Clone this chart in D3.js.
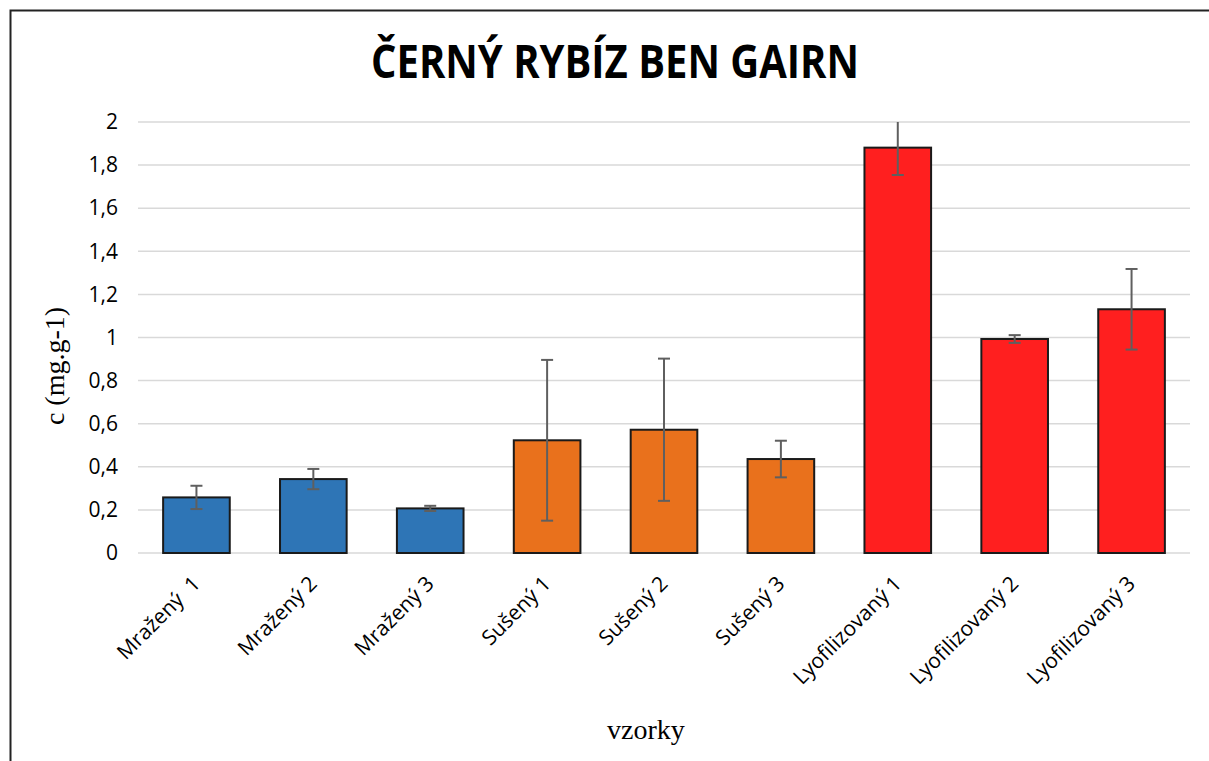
<!DOCTYPE html>
<html>
    <head>
        <meta charset="utf-8">
        <title>Černý rybíz Ben Gairn</title>
        <script src="https://d3js.org/d3.v7.min.js"></script>
        <style>
            body {
                margin: 0;
                padding: 0;
                background: #fff;
            }
        </style>
    </head>

    <body>
        <svg id="chart" width="1209" height="761"></svg>
    </body>

    <script>
        // ---- DATA ----
        const samples = ["Mražený  1", "Mražený 2", "Mražený 3",
                         "Sušený 1", "Sušený 2", "Sušený 3",
                         "Lyofilizovaný 1", "Lyofilizovaný 2", "Lyofilizovaný 3"];
        const groups = ["mraz", "mraz", "mraz", "sus", "sus", "sus", "lyo", "lyo", "lyo"];
        const means = [0.258, 0.343, 0.207, 0.523, 0.572, 0.436, 1.881, 0.993, 1.131];
        const errors = [0.054, 0.047, 0.012, 0.373, 0.330, 0.085, 0.127, 0.018, 0.187];
        const yTicks = [0, 0.2, 0.4, 0.6, 0.8, 1, 1.2, 1.4, 1.6, 1.8, 2];

        const colors = { mraz: "#2E75B6", sus: "#E9711C", lyo: "#FF1F1F" };

        const svg = d3.select("#chart");

        // frame (only top and left edges visible in the picture)
        svg.append("rect")
            .attr("x", 10.5).attr("y", 10.5)
            .attr("width", 1240).attr("height", 800)
            .attr("fill", "none")
            .attr("stroke", "#222")
            .attr("stroke-width", 2);

        const margin = { top: 122, bottom: 208, left: 138, right: 19 };
        const W = 1209, H = 761;

        const x = d3.scaleBand()
            .domain(samples)
            .range([margin.left, W - margin.right])
            .paddingInner(0.43)
            .paddingOuter(0.215);

        const y = d3.scaleLinear()
            .domain([0, 2])
            .range([H - margin.bottom, margin.top]);

        // gridlines
        svg.append("g")
            .selectAll("line")
            .data(yTicks)
            .join("line")
            .attr("x1", margin.left)
            .attr("x2", W - margin.right)
            .attr("y1", d => y(d))
            .attr("y2", d => y(d))
            .attr("stroke", "#D9D9D9")
            .attr("stroke-width", 1.5);

        // y axis labels
        const yAxis = d3.axisLeft(y)
            .tickValues(yTicks)
            .tickSize(0)
            .tickPadding(0)
            .tickFormat(d => String(d).replace(".", ","));

        svg.append("g")
            .attr("transform", "translate(118,0)")
            .call(yAxis)
            .call(g => g.select(".domain").remove())
            .selectAll("text")
            .attr("font-family", "Open Sans")
            .attr("font-size", 21)
            .attr("fill", "#000");

        // bars
        svg.append("g")
            .selectAll("rect")
            .data(means)
            .join("rect")
            .attr("x", (d, i) => x(samples[i]))
            .attr("y", d => y(d))
            .attr("width", x.bandwidth())
            .attr("height", d => y(0) - y(d))
            .attr("fill", (d, i) => colors[groups[i]])
            .attr("stroke", "#1a1a1a")
            .attr("stroke-width", 2);

        // error bars (clipped at axis max like the original)
        const eb = svg.append("g")
            .attr("stroke", "#5f5f5f")
            .attr("stroke-width", 2);
        means.forEach((m, i) => {
            const cx = x(samples[i]) + x.bandwidth() / 2;
            const hi = Math.min(2, m + errors[i]);
            const lo = m - errors[i];
            eb.append("line").attr("x1", cx).attr("x2", cx)
                .attr("y1", y(hi)).attr("y2", y(lo));
            if (m + errors[i] <= 2) {
                eb.append("line").attr("x1", cx - 6).attr("x2", cx + 6)
                    .attr("y1", y(hi)).attr("y2", y(hi));
            }
            eb.append("line").attr("x1", cx - 6).attr("x2", cx + 6)
                .attr("y1", y(lo)).attr("y2", y(lo));
        });

        // x category labels, rotated
        svg.append("g")
            .selectAll("text")
            .data(samples)
            .join("text")
            .attr("transform", d => {
                const cx = x(d) + x.bandwidth() / 2;
                return "translate(" + (cx + 5) + ",585) rotate(-45)";
            })
            .attr("text-anchor", "end")
            .attr("font-family", "Open Sans")
            .attr("font-size", 21)
            .attr("fill", "#000")
            .style("white-space", "pre")
            .text(d => d);

        // title
        svg.append("text")
            .attr("x", 615)
            .attr("y", 78)
            .attr("text-anchor", "middle")
            .attr("font-family", "Open Sans")
            .attr("font-weight", "bold")
            .attr("font-size", 46)
            .attr("textLength", 488)
            .attr("lengthAdjust", "spacingAndGlyphs")
            .text("ČERNÝ RYBÍZ BEN GAIRN");

        // axis titles
        svg.append("text")
            .attr("transform", "translate(64,366) rotate(-90)")
            .attr("text-anchor", "middle")
            .attr("font-family", "Liberation Serif")
            .attr("font-size", 28)
            .text("c (mg.g-1)");

        svg.append("text")
            .attr("x", 646)
            .attr("y", 739)
            .attr("text-anchor", "middle")
            .attr("font-family", "Liberation Serif")
            .attr("font-size", 28)
            .text("vzorky");
    </script>
</html>
